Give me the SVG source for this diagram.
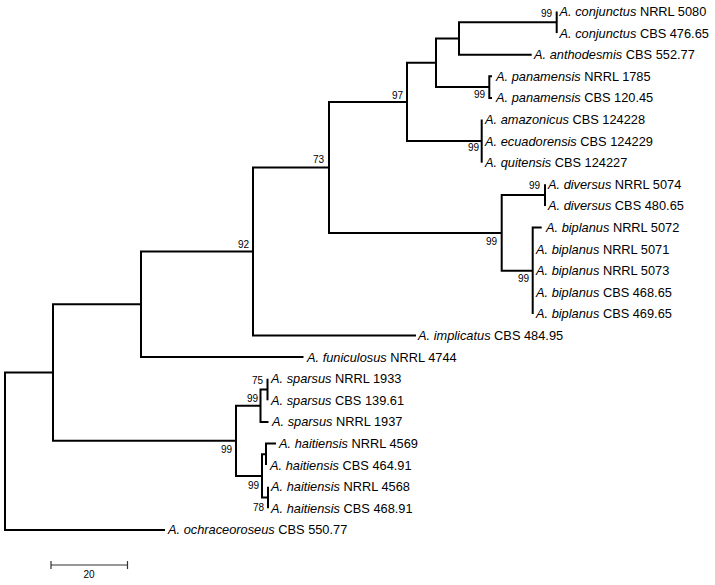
<svg xmlns="http://www.w3.org/2000/svg" width="715" height="585" viewBox="0 0 715 585">
<style>
.br{fill:none;stroke:#000;stroke-width:2}
.lf{font-family:"Liberation Sans",Arial,sans-serif;font-size:12.8px;fill:#000}
.sp{font-style:italic}
.bs{font-family:"Liberation Sans",Arial,sans-serif;font-size:10px;fill:#000;text-anchor:end}
.sc{fill:none;stroke:#333;stroke-width:1.2}
</style>
<rect width="715" height="585" fill="#fff"/>
<g id="connectors">
<path class="br" d="M53,372.6 H5 V529.9 H165"/>
<path class="br" d="M141,304.3 H53 V440.8 H236"/>
<path class="br" d="M253,251.5 H141 V357.1 H303.5"/>
<path class="br" d="M329,167.4 H253 V335.5 H416"/>
<path class="br" d="M407,102 H329 V232.9 H501.7"/>
<path class="br" d="M436,62.8 H407 V141.1 H481.7"/>
<path class="br" d="M459,38.5 H436 V87.1 H489.3"/>
<path class="br" d="M556.7,22.3 H459 V54.7 H531.7"/>
<path class="br" d="M556.7,11.5 V33.1"/>
<path class="br" d="M492,76.3 H489.3 V97.9 H492"/>
<path class="br" d="M481.7,119.5 V162.7"/>
<path class="br" d="M545,195.1 H501.7 V270.7 H532.7"/>
<path class="br" d="M545,184.3 V205.9"/>
<path class="br" d="M541.7,227.5 H532.7 V313.9"/>
<path class="br" d="M260.5,405.7 H236 V475.9 H262"/>
<path class="br" d="M267.5,389.5 H260.5 V421.9 H268.5"/>
<path class="br" d="M267.5,378.7 V400.3"/>
<path class="br" d="M266,454.3 H262 V497.5 H268"/>
<path class="br" d="M276,443.5 H266 V465.1"/>
<path class="br" d="M268,486.7 V508.3"/>
</g>
<g id="leaves">
<g id="n1"><text class="lf" x="559.5" y="16"><tspan class="sp">A. conjunctus</tspan> NRRL 5080</text></g>
<g id="n2"><text class="lf" x="559.5" y="37.6"><tspan class="sp">A. conjunctus</tspan> CBS 476.65</text></g>
<g id="n3"><text class="lf" x="534" y="59.2"><tspan class="sp">A. anthodesmis</tspan> CBS 552.77</text></g>
<g id="n4"><text class="lf" x="496" y="80.8"><tspan class="sp">A. panamensis</tspan> NRRL 1785</text></g>
<g id="n5"><text class="lf" x="496" y="102.4"><tspan class="sp">A. panamensis</tspan> CBS 120.45</text></g>
<g id="n6"><text class="lf" x="485" y="124"><tspan class="sp">A. amazonicus</tspan> CBS 124228</text></g>
<g id="n7"><text class="lf" x="485" y="145.6"><tspan class="sp">A. ecuadorensis</tspan> CBS 124229</text></g>
<g id="n8"><text class="lf" x="485" y="167.2"><tspan class="sp">A. quitensis</tspan> CBS 124227</text></g>
<g id="n9"><text class="lf" x="548" y="188.8"><tspan class="sp">A. diversus</tspan> NRRL 5074</text></g>
<g id="n10"><text class="lf" x="548" y="210.4"><tspan class="sp">A. diversus</tspan> CBS 480.65</text></g>
<g id="n11"><text class="lf" x="546" y="232"><tspan class="sp">A. biplanus</tspan> NRRL 5072</text></g>
<g id="n12"><text class="lf" x="536" y="253.6"><tspan class="sp">A. biplanus</tspan> NRRL 5071</text></g>
<g id="n13"><text class="lf" x="536" y="275.2"><tspan class="sp">A. biplanus</tspan> NRRL 5073</text></g>
<g id="n14"><text class="lf" x="536" y="296.8"><tspan class="sp">A. biplanus</tspan> CBS 468.65</text></g>
<g id="n15"><text class="lf" x="536" y="318.4"><tspan class="sp">A. biplanus</tspan> CBS 469.65</text></g>
<g id="n16"><text class="lf" x="418" y="340"><tspan class="sp">A. implicatus</tspan> CBS 484.95</text></g>
<g id="n17"><text class="lf" x="307" y="361.6"><tspan class="sp">A. funiculosus</tspan> NRRL 4744</text></g>
<g id="n18"><text class="lf" x="271" y="383.2"><tspan class="sp">A. sparsus</tspan> NRRL 1933</text></g>
<g id="n19"><text class="lf" x="271" y="404.8"><tspan class="sp">A. sparsus</tspan> CBS 139.61</text></g>
<g id="n20"><text class="lf" x="272" y="426.4"><tspan class="sp">A. sparsus</tspan> NRRL 1937</text></g>
<g id="n21"><text class="lf" x="279" y="448"><tspan class="sp">A. haitiensis</tspan> NRRL 4569</text></g>
<g id="n22"><text class="lf" x="270" y="469.6"><tspan class="sp">A. haitiensis</tspan> CBS 464.91</text></g>
<g id="n23"><text class="lf" x="271" y="491.2"><tspan class="sp">A. haitiensis</tspan> NRRL 4568</text></g>
<g id="n24"><text class="lf" x="271" y="512.8"><tspan class="sp">A. haitiensis</tspan> CBS 468.91</text></g>
<g id="n25"><text class="lf" x="168" y="534.4"><tspan class="sp">A. ochraceoroseus</tspan> CBS 550.77</text></g>
</g>
<g id="support">
<g id="b1"><text class="bs" x="552" y="17">99</text></g>
<g id="b2"><text class="bs" x="403" y="99">97</text></g>
<g id="b3"><text class="bs" x="485" y="98">99</text></g>
<g id="b4"><text class="bs" x="479" y="151">99</text></g>
<g id="b5"><text class="bs" x="324" y="163">73</text></g>
<g id="b6"><text class="bs" x="249" y="248">92</text></g>
<g id="b7"><text class="bs" x="540" y="189">99</text></g>
<g id="b8"><text class="bs" x="497" y="245">99</text></g>
<g id="b9"><text class="bs" x="529" y="282">99</text></g>
<g id="b10"><text class="bs" x="263" y="384">75</text></g>
<g id="b11"><text class="bs" x="258" y="402">99</text></g>
<g id="b12"><text class="bs" x="232" y="453">99</text></g>
<g id="b13"><text class="bs" x="259" y="489">99</text></g>
<g id="b14"><text class="bs" x="264" y="511">78</text></g>
</g>
<g id="scale">
<path class="sc" d="M51,565 H127.5 M51,561 V569 M127.5,561 V569"/>
<text class="bs" x="89" y="578" style="text-anchor:middle">20</text>
</g>
</svg>
